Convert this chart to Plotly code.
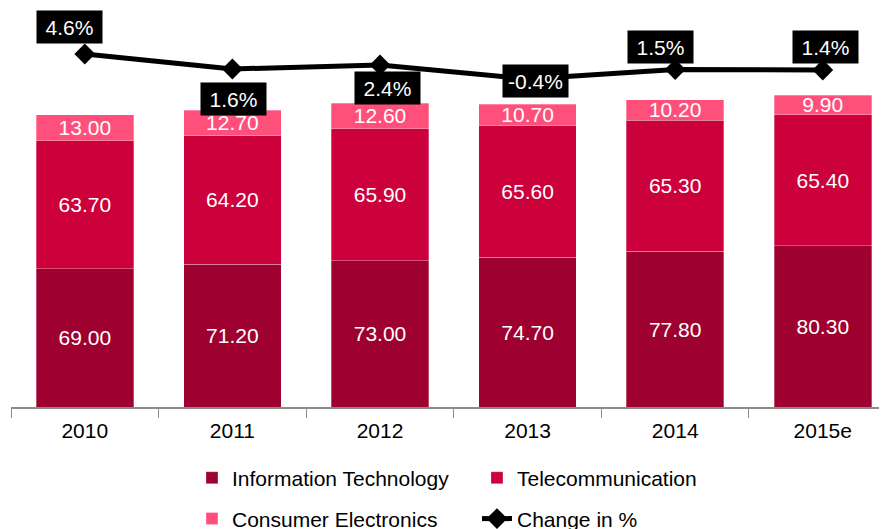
"""
Stacked revenue by segment (2010-2015e) with year-on-year change line.
"""
import plotly.graph_objects as go

years = ["2010", "2011", "2012", "2013", "2014", "2015e"]
it = [69.0, 71.2, 73.0, 74.7, 77.8, 80.3]
telecom = [63.7, 64.2, 65.9, 65.6, 65.3, 65.4]
consumer = [13.0, 12.7, 12.6, 10.7, 10.2, 9.9]
change = [4.6, 1.6, 2.4, -0.4, 1.5, 1.4]
change_labels = ["4.6%", "1.6%", "2.4%", "-0.4%", "1.5%", "1.4%"]

# label box offsets in px relative to the point (dx, dy)
label_shift = [(-15, 27), (1, -30), (7, -23), (8, -2), (-15, 23), (3, 23)]

FONT = "Liberation Sans, Arial, sans-serif"
FS = 21
colors = {"it": "#9E002F", "tel": "#CC003A", "ce": "#FF4F7B"}

fig = go.Figure()
series = [("Information Technology", it, colors["it"], "legend"),
          ("Telecommunication", telecom, colors["tel"], "legend"),
          ("Consumer Electronics", consumer, colors["ce"], "legend2")]
for name, vals, c, lg in series:
    fig.add_trace(go.Bar(
        x=years, y=vals, name=name, legend=lg,
        marker=dict(color=c, line=dict(color="rgba(255,255,255,0.5)", width=0.6)),
        text=[f"{v:.2f}" for v in vals], textposition="inside", insidetextanchor="middle",
        constraintext="none", textfont=dict(color="white", size=FS, family=FONT),
        cliponaxis=False,
    ))

fig.add_trace(go.Scatter(
    x=years, y=change, name="Change in %", yaxis="y2", legend="legend2",
    mode="lines+markers",
    line=dict(color="black", width=5),
    marker=dict(symbol="diamond", size=16, color="black"),
    cliponaxis=False,
))

# category axis: annotate by index so "2010" is not read as a number
for i, (v, lab, (dx, dy)) in enumerate(zip(change, change_labels, label_shift)):
    fig.add_annotation(x=i, y=v, xref="x", yref="y2", text=lab, showarrow=False,
                       xshift=dx, yshift=dy, bgcolor="black", borderpad=4,
                       width=57, height=24,
                       font=dict(color="white", size=FS, family=FONT))

leg = dict(orientation="h", xanchor="left", yanchor="middle", entrywidth=240,
           font=dict(size=FS), traceorder="normal", bgcolor="rgba(0,0,0,0)")

# page body has an 8px margin, so the plot is nudged up/left by that amount
fig.update_layout(
    width=887, height=529,
    barmode="stack", bargap=0.34,
    plot_bgcolor="white", paper_bgcolor="white",
    margin=dict(l=3, r=8, t=2, b=130, autoexpand=False),
    font=dict(family=FONT, size=FS, color="black"),
    xaxis=dict(range=[-0.5, 5.435], showline=True, linecolor="#8c8c8c", linewidth=2,
               ticks="outside", tickson="boundaries", ticklen=9, tickcolor="#8c8c8c",
               ticklabelstandoff=4, tickfont=dict(size=FS), showgrid=False),
    yaxis=dict(range=[0, 198], visible=False, showgrid=False),
    yaxis2=dict(range=[-66, 13.4], overlaying="y", visible=False, showgrid=False),
    legend=dict(leg, x=0.2066, y=-0.179),
    legend2=dict(leg, x=0.2066, y=-0.282),
    showlegend=True,
)

fig.write_html("out.html")
